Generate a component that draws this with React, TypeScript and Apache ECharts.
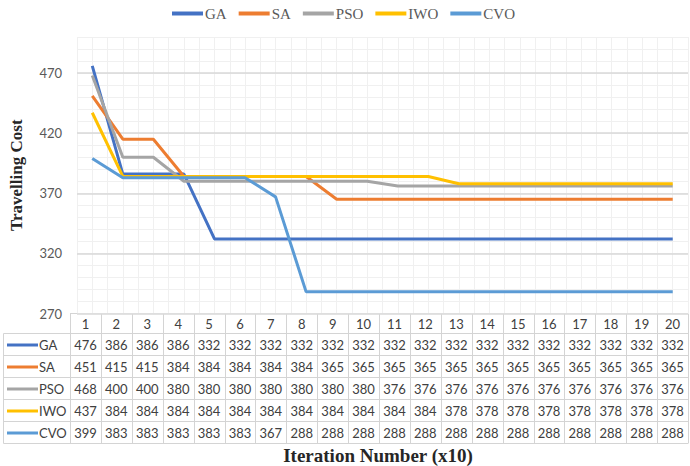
import React, { useEffect, useRef } from 'react';
import * as echarts from 'echarts';

const categories = ['1', '2', '3', '4', '5', '6', '7', '8', '9', '10', '11', '12', '13', '14', '15', '16', '17', '18', '19', '20'];
const seriesNames = ['GA', 'SA', 'PSO', 'IWO', 'CVO'];
const gaValues = [476, 386, 386, 386, 332, 332, 332, 332, 332, 332, 332, 332, 332, 332, 332, 332, 332, 332, 332, 332];
const saValues = [451, 415, 415, 384, 384, 384, 384, 384, 365, 365, 365, 365, 365, 365, 365, 365, 365, 365, 365, 365];
const psoValues = [468, 400, 400, 380, 380, 380, 380, 380, 380, 380, 376, 376, 376, 376, 376, 376, 376, 376, 376, 376];
const iwoValues = [437, 384, 384, 384, 384, 384, 384, 384, 384, 384, 384, 384, 378, 378, 378, 378, 378, 378, 378, 378];
const cvoValues = [399, 383, 383, 383, 383, 383, 367, 288, 288, 288, 288, 288, 288, 288, 288, 288, 288, 288, 288, 288];
const allValues = [gaValues, saValues, psoValues, iwoValues, cvoValues];
const colors = ['#4472C4', '#ED7D31', '#A5A5A5', '#FFC000', '#5B9BD5'];

const yMin = 270;
const yMax = 500;
const yMajor = 50;
const yMinor = 10;

const GRID_LEFT = 70;
const GRID_RIGHT_EDGE = 688;
const GRID_TOP = 37;
const GRID_BOTTOM_Y = 313.5;
const HEADER_BOTTOM = 333.5;
const ROW_H = 22;
const TABLE_LEFT = 3.5;

const SANS = 'Lato, "Open Sans", sans-serif';
const SERIF = '"Liberation Serif", "DejaVu Serif", serif';

export default function App() {
  const ref = useRef<HTMLDivElement>(null);
  useEffect(() => {
    if (!ref.current) return;
    const chart = echarts.init(ref.current, undefined, { renderer: 'svg' });
    const W = 690;
    const H = 466;
    const colW = (GRID_RIGHT_EDGE - GRID_LEFT) / categories.length;
    const gridLine = '#d4d4d4';
    const graphics: any[] = [];
    const tableBottom = HEADER_BOTTOM + ROW_H * seriesNames.length;

    graphics.push({
      type: 'line', silent: true,
      shape: { x1: GRID_LEFT, y1: GRID_BOTTOM_Y, x2: GRID_RIGHT_EDGE, y2: GRID_BOTTOM_Y },
      style: { stroke: gridLine, lineWidth: 1 },
    });
    for (let r = 0; r <= seriesNames.length; r++) {
      const y = HEADER_BOTTOM + r * ROW_H;
      graphics.push({
        type: 'line', silent: true,
        shape: { x1: TABLE_LEFT, y1: y, x2: GRID_RIGHT_EDGE, y2: y },
        style: { stroke: gridLine, lineWidth: 1 },
      });
    }
    graphics.push({
      type: 'line', silent: true,
      shape: { x1: TABLE_LEFT, y1: HEADER_BOTTOM, x2: TABLE_LEFT, y2: tableBottom },
      style: { stroke: gridLine, lineWidth: 1 },
    });
    for (let i = 0; i <= categories.length; i++) {
      const x = Math.round(GRID_LEFT + i * colW) + 0.5;
      graphics.push({
        type: 'line', silent: true,
        shape: { x1: x, y1: GRID_BOTTOM_Y, x2: x, y2: tableBottom },
        style: { stroke: gridLine, lineWidth: 1 },
      });
    }
    categories.forEach((c, i) => {
      graphics.push({
        type: 'text', silent: true,
        x: GRID_LEFT + (i + 0.5) * colW, y: (GRID_BOTTOM_Y + HEADER_BOTTOM) / 2 + 0.5,
        style: { text: c, fontSize: 13, fontFamily: SANS, fill: '#404040', align: 'center', verticalAlign: 'middle' },
      });
    });
    seriesNames.forEach((name, r) => {
      const yc = HEADER_BOTTOM + r * ROW_H + ROW_H / 2 + 0.5;
      graphics.push({
        type: 'line', silent: true,
        shape: { x1: 7, y1: yc, x2: 38, y2: yc },
        style: { stroke: colors[r], lineWidth: 3 },
      });
      graphics.push({
        type: 'text', silent: true,
        x: 39, y: yc,
        style: { text: name, fontSize: 13, fontFamily: SANS, fill: '#404040', align: 'left', verticalAlign: 'middle' },
      });
      allValues[r].forEach((v, i) => {
        graphics.push({
          type: 'text', silent: true,
          x: GRID_LEFT + (i + 0.5) * colW, y: yc,
          style: { text: String(v), fontSize: 13, fontFamily: SANS, fill: '#404040', align: 'center', verticalAlign: 'middle' },
        });
      });
    });
    graphics.push({
      type: 'text', silent: true,
      x: 378, y: 455,
      style: { text: 'Iteration Number (x10)', fontSize: 19, fontWeight: 'bold', fontFamily: SERIF, fill: '#262626', align: 'center', verticalAlign: 'middle' },
    });

    const option: any = {
      animation: false,
      backgroundColor: '#ffffff',
      color: colors,
      legend: {
        data: seriesNames,
        top: 1,
        left: 167,
        icon: 'rect',
        itemWidth: 31,
        itemHeight: 4,
        itemGap: 12,
        textStyle: { fontFamily: SERIF, fontSize: 15, color: '#595959', padding: [0, 0, 0, -3] },
      },
      grid: {
        left: GRID_LEFT,
        right: W - GRID_RIGHT_EDGE,
        top: GRID_TOP,
        bottom: H - GRID_BOTTOM_Y,
        containLabel: false,
      },
      xAxis: [
        {
          type: 'category',
          data: categories,
          boundaryGap: true,
          axisLine: { show: false },
          axisTick: { show: false },
          axisLabel: { show: false },
          splitLine: { show: false },
        },
        {
          type: 'value',
          min: 0,
          max: categories.length,
          interval: 0.5,
          show: true,
          axisLine: { show: false },
          axisTick: { show: false },
          axisLabel: { show: false },
          splitLine: { show: true, lineStyle: { color: '#f0f0f0', width: 1 } },
          z: 0,
        },
      ],
      yAxis: [
        {
          type: 'value',
          min: yMin,
          max: yMax,
          interval: yMajor,
          name: 'Travelling Cost',
          nameLocation: 'middle',
          nameGap: 52,
          nameTextStyle: { fontFamily: SERIF, fontSize: 17, fontWeight: 'bold', color: '#262626' },
          axisLine: { show: false },
          axisTick: { show: false },
          axisLabel: { showMaxLabel: false, fontFamily: SANS, fontSize: 13, color: '#595959', margin: 15 },
          splitLine: { show: true, showMaxLine: false, lineStyle: { color: '#d9d9d9', width: 1.5 } },
          z: 1,
        },
        {
          type: 'value',
          min: yMin,
          max: yMax,
          interval: yMinor,
          axisLine: { show: false },
          axisTick: { show: false },
          axisLabel: { show: false },
          splitLine: { show: true, lineStyle: { color: '#f0f0f0', width: 1 } },
          z: 0,
        },
      ],
      series: seriesNames.map((name, i) => ({
        name,
        type: 'line',
        data: allValues[i],
        xAxisIndex: 0,
        yAxisIndex: 0,
        showSymbol: false,
        symbol: 'none',
        lineStyle: { width: 3, color: colors[i] },
        itemStyle: { color: colors[i] },
        z: 3,
      })),
      graphic: graphics,
    };
    chart.setOption(option);
    return () => chart.dispose();
  }, []);
  return <div ref={ref} style={{ width: 690, height: 466, position: 'absolute', left: 0, top: 0 }} />;
}
